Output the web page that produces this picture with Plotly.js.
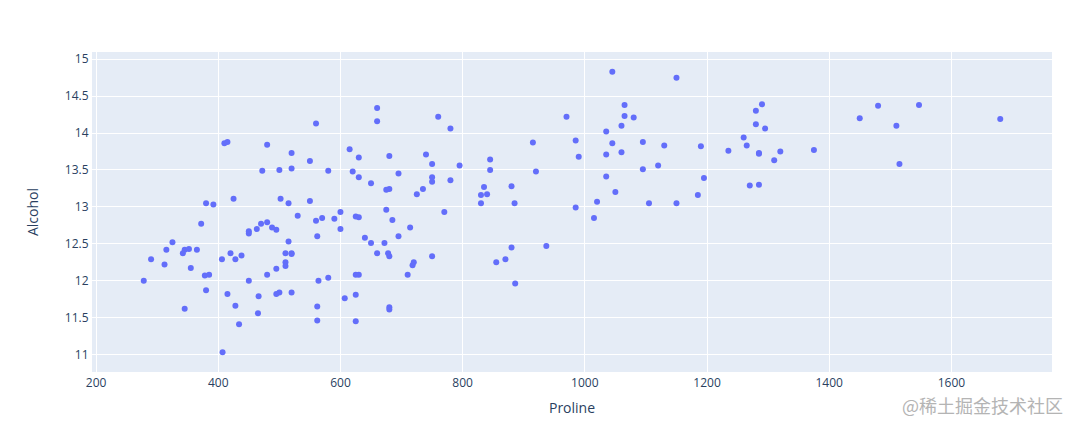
<!DOCTYPE html>
<html>
<head>
<meta charset="utf-8">
<script src="https://cdn.plot.ly/plotly-3.0.1.min.js"></script>
<style>html,body{margin:0;padding:0;background:#fff;}#chart{width:1080px;height:429px;}</style>
</head>
<body>
<div id="chart"></div>
<script>
// Wine dataset: Proline vs Alcohol
const proline = [
1065,1050,1185,1480,735,1450,1290,1295,1045,1045,1510,1280,1320,1150,1547,1310,1280,1130,1680,845,
780,770,1035,1015,845,830,1195,1285,915,1035,1285,1515,990,1235,1095,920,880,1105,1020,760,
795,1035,1095,680,885,1080,1065,985,1060,1260,1150,1265,1190,1375,1060,1120,970,1270,1285,
520,680,450,630,420,355,678,502,510,750,718,870,410,472,985,886,428,392,500,750,
463,278,714,630,515,520,450,495,562,680,625,480,450,495,290,345,937,625,428,660,
406,710,562,438,415,672,315,510,488,312,680,562,325,607,434,385,407,495,345,372,
564,625,465,365,380,380,378,352,466,342,580,
630,530,560,600,650,695,720,515,580,590,600,780,520,550,855,830,415,625,650,550,
500,480,425,675,640,725,480,880,660,620,520,680,570,675,615,520,695,685,750,630,
510,470,660,740,750,835,840,560
];
const alcohol = [
14.23,13.2,13.16,14.37,13.24,14.2,14.39,14.06,14.83,13.86,14.1,14.12,13.75,14.75,14.38,13.63,14.3,13.83,14.19,13.64,
14.06,12.93,13.71,12.85,13.5,13.05,13.39,13.3,13.87,14.02,13.73,13.58,13.68,13.76,13.51,13.48,13.28,13.05,13.07,14.22,
13.56,13.41,13.88,13.24,13.05,14.21,14.38,13.9,14.1,13.94,13.05,13.83,13.82,13.77,13.74,13.56,14.22,13.29,13.72,
12.37,12.33,12.64,13.67,12.37,12.17,12.37,13.11,12.37,13.34,12.21,12.29,13.86,13.49,12.99,11.96,11.66,13.03,11.84,12.33,
12.7,12.0,12.72,12.08,13.05,11.84,12.67,12.16,11.65,11.64,12.08,12.08,12.0,12.69,12.29,11.62,12.47,11.81,12.29,12.37,
12.29,12.08,12.6,12.34,11.82,12.51,12.42,12.25,12.72,12.22,11.61,11.46,12.52,11.76,11.41,12.08,11.03,11.82,12.42,12.77,
12.0,11.45,11.56,12.42,13.05,11.87,12.07,12.43,11.79,12.37,12.04,
12.86,12.88,12.81,12.7,12.51,12.6,12.25,12.53,13.49,12.84,12.93,13.36,13.52,13.62,12.25,13.16,13.88,12.87,13.32,13.08,
13.5,12.79,13.11,13.23,12.58,13.17,13.84,12.45,14.34,13.48,12.36,13.69,12.85,12.96,13.78,13.73,13.45,12.82,13.58,13.4,
12.2,12.77,14.16,13.71,13.4,13.27,13.17,14.13
];
const xTitle = "Proline";
const yTitle = "Alcohol";
const watermark = "@稀土掘金技术社区";

const trace = {
  type: "scatter",
  mode: "markers",
  x: proline,
  y: alcohol,
  marker: {color: "#636efa", size: 6}
};

const layout = {
  width: 1080,
  height: 429,
  margin: {l: 92, r: 28, t: 52, b: 57},
  paper_bgcolor: "#ffffff",
  plot_bgcolor: "#E5ECF6",
  font: {family: '"Open Sans", verdana, arial, sans-serif', size: 12, color: "#2a3f5f"},
  xaxis: {
    title: {text: xTitle, font: {size: 14}, standoff: 12},
    gridcolor: "#ffffff",
    linecolor: "#ffffff",
    zeroline: false,
    ticks: "",
    dtick: 200,
    automargin: false
  },
  yaxis: {
    title: {text: yTitle, font: {size: 14}, standoff: 22},
    gridcolor: "#ffffff",
    linecolor: "#ffffff",
    zeroline: false,
    ticks: "",
    dtick: 0.5,
    automargin: false
  },
  showlegend: false,
  annotations: [{
    text: watermark,
    xref: "paper", yref: "paper",
    x: 1.0135, y: -0.103,
    xanchor: "right", yanchor: "middle",
    showarrow: false,
    font: {family: '"Noto Sans CJK SC", sans-serif', size: 18, color: "#b4b4b4"}
  }]
};

Plotly.newPlot("chart", [trace], layout, {displayModeBar: false, staticPlot: true});
</script>
</body>
</html>
